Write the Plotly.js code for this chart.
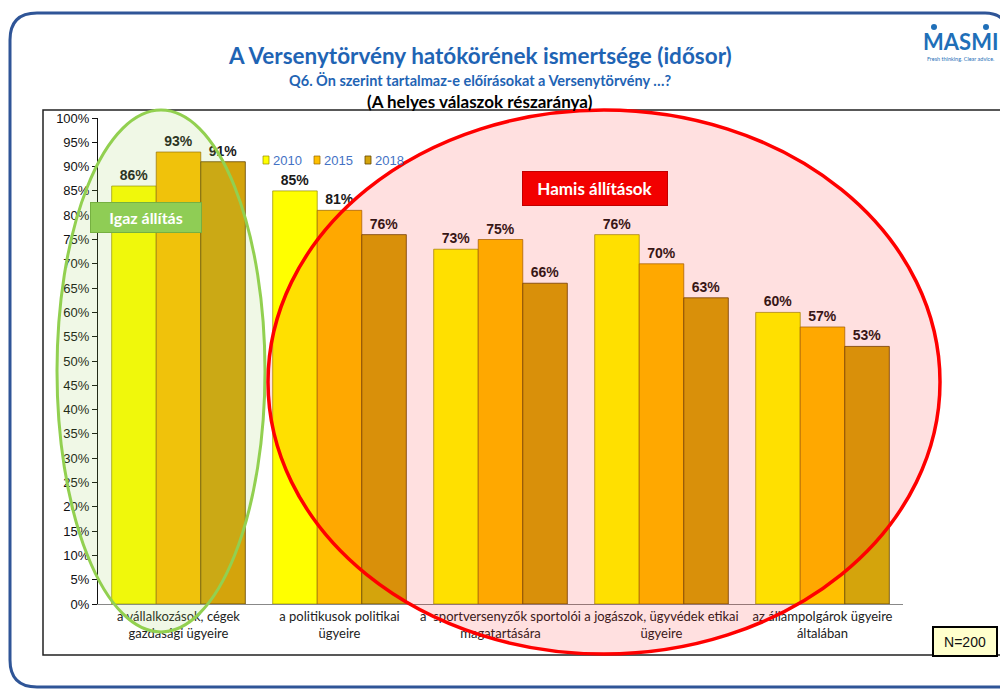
<!DOCTYPE html>
<html>
<head>
<meta charset="utf-8">
<script src="https://cdn.plot.ly/plotly-3.0.1.min.js"></script>
<style>html,body{margin:0;padding:0;background:#fff;}#chart{width:1000px;height:690px;}</style>
</head>
<body>
<div id="chart"></div>
<script>
// ---- data ----
const categories = [
  "a vállalkozások, cégek<br>gazdasági ügyeire",
  "a politikusok politikai<br>ügyeire",
  "a  sportversenyzők sportolói<br>magatartására",
  "a jogászok, ügyvédek etikai<br>ügyeire",
  "az állampolgárok ügyeire<br>általában"
];
const years = ["2010", "2015", "2018"];
const values2010 = [0.86, 0.85, 0.73, 0.76, 0.60];
const values2015 = [0.93, 0.81, 0.75, 0.70, 0.57];
const values2018 = [0.91, 0.76, 0.66, 0.63, 0.53];
const seriesValues = [values2010, values2015, values2018];

const titleText = "A Versenytörvény hatókörének ismertsége (idősor)";
const subtitleText = "Q6. Ön szerint tartalmaz-e előírásokat a Versenytörvény …?";
const subtitle2Text = "(A helyes válaszok részaránya)";
const trueLabel = "Igaz állítás";
const falseLabel = "Hamis állítások";
const nLabel = "N=200";

// ---- styles ----
const colors = ["#ffff00", "#ffc000", "#d4a40c"];
const lineColors = ["rgba(150,140,0,0.7)", "rgba(150,100,0,0.7)", "rgba(100,70,0,0.8)"];
const W = 1000, H = 690;
const PL = 98, PR = 903, PT = 118, PB = 604;
const fx = p => (p - PL) / (PR - PL);
const fy = p => (PB - p) / (PB - PT);

const traces = years.map((yr, i) => ({
  type: "bar",
  name: yr,
  x: categories,
  y: seriesValues[i],
  marker: { color: colors[i], line: { color: lineColors[i], width: 1 } },
  text: seriesValues[i].map(v => Math.round(v * 100) + "%"),
  textposition: "outside",
  cliponaxis: false,
  textfont: { family: "Liberation Sans, Arial", size: 14, color: "#1a1a1a", weight: "bold" },
  hoverinfo: "skip"
}));

const shapes = [];
const annotations = [];

// slide frame
shapes.push({
  type: "path", xref: "paper", yref: "paper", layer: "below",
  path: `M ${fx(10)},${fy(40)} Q ${fx(10)},${fy(13)} ${fx(37)},${fy(13)} L ${fx(985)},${fy(13)} Q ${fx(1006)},${fy(13)} ${fx(1010)},${fy(35)} ` +
        `M ${fx(10)},${fy(40)} L ${fx(10)},${fy(660)} Q ${fx(10)},${fy(687)} ${fx(37)},${fy(687)} L ${fx(1010)},${fy(687)}`,
  line: { color: "#2f5597", width: 3 }
});
// chart box
shapes.push({
  type: "rect", xref: "paper", yref: "paper", layer: "below",
  x0: fx(43), x1: fx(1003), y0: fy(655), y1: fy(110),
  line: { color: "#222", width: 1.5 }, fillcolor: "rgba(0,0,0,0)"
});
// green ellipse
shapes.push({
  type: "circle", xref: "paper", yref: "paper",
  x0: fx(57), x1: fx(265), y0: fy(632), y1: fy(110),
  line: { color: "#92d050", width: 3 }, fillcolor: "rgba(146,208,80,0.14)"
});
// red ellipse
shapes.push({
  type: "circle", xref: "paper", yref: "paper",
  x0: fx(268), x1: fx(940), y0: fy(654), y1: fy(110),
  line: { color: "#ff0000", width: 3.5 }, fillcolor: "rgba(255,0,0,0.12)"
});

// custom legend
years.forEach((yr, i) => {
  const mx = 263 + i * 51;
  shapes.push({
    type: "rect", xref: "paper", yref: "paper",
    x0: fx(mx), x1: fx(mx + 6), y0: fy(164), y1: fy(156),
    fillcolor: colors[i], line: { color: lineColors[i], width: 1 }
  });
  annotations.push({
    xref: "paper", yref: "paper", x: fx(mx + 8), y: fy(160), xanchor: "left", yanchor: "middle",
    text: yr, showarrow: false,
    font: { family: "Liberation Sans, Arial", size: 13, color: "#4472c4" }
  });
});

// titles
annotations.push({
  xref: "paper", yref: "paper", x: fx(480), y: fy(55), xanchor: "center", yanchor: "middle",
  text: titleText, showarrow: false,
  font: { family: "Lato", size: 22.5, color: "#1f64b4", weight: "bold" }
});
annotations.push({
  xref: "paper", yref: "paper", x: fx(480), y: fy(80), xanchor: "center", yanchor: "middle",
  text: subtitleText, showarrow: false,
  font: { family: "Lato", size: 14.5, color: "#1f64b4", weight: "bold" }
});
annotations.push({
  xref: "paper", yref: "paper", x: fx(480), y: fy(102), xanchor: "center", yanchor: "middle",
  text: subtitle2Text, showarrow: false,
  font: { family: "Lato", size: 17, color: "#000", weight: "bold" }
});

// logo
annotations.push({
  xref: "paper", yref: "paper", x: fx(960), y: fy(41), xanchor: "center", yanchor: "middle",
  text: "MASMI", showarrow: false,
  font: { family: "Lato", size: 22, color: "#1f6fb8", weight: "bold" }
});
annotations.push({
  xref: "paper", yref: "paper", x: fx(960), y: fy(59), xanchor: "center", yanchor: "middle",
  text: "Fresh thinking. Clear advice.", showarrow: false,
  font: { family: "Lato", size: 5.5, color: "#1f6fb8" }
});
[[934, 27], [986, 27]].forEach(([cx, cy]) => shapes.push({
  type: "circle", xref: "paper", yref: "paper",
  x0: fx(cx - 3), x1: fx(cx + 3), y0: fy(cy + 3), y1: fy(cy - 3),
  fillcolor: "#1f6fb8", line: { width: 0 }
}));

// labels for ellipses
annotations.push({
  xref: "paper", yref: "paper", x: fx(146), y: fy(217), xanchor: "center", yanchor: "middle",
  text: trueLabel, showarrow: false,
  font: { family: "Lato", size: 16, color: "#ffffff", weight: "bold" },
  bgcolor: "#8fcd55", bordercolor: "#76b041", borderwidth: 1,
  width: 108, height: 27
});
annotations.push({
  xref: "paper", yref: "paper", x: fx(595), y: fy(188), xanchor: "center", yanchor: "middle",
  text: falseLabel, showarrow: false,
  font: { family: "Lato", size: 17, color: "#ffffff", weight: "bold" },
  bgcolor: "#f20000", bordercolor: "#c00000", borderwidth: 1,
  width: 142, height: 31
});
// N box
annotations.push({
  xref: "paper", yref: "paper", x: fx(965), y: fy(641), xanchor: "center", yanchor: "middle",
  text: nLabel, showarrow: false,
  font: { family: "Liberation Sans, Arial", size: 14, color: "#111" },
  bgcolor: "#ffffcc", bordercolor: "#000", borderwidth: 2,
  width: 60, height: 25
});

const layout = {
  width: W, height: H,
  margin: { l: PL, r: W - PR, t: PT, b: H - PB, pad: 0 },
  paper_bgcolor: "#ffffff",
  plot_bgcolor: "rgba(0,0,0,0)",
  showlegend: false,
  barmode: "group",
  bargap: 0.17,
  bargroupgap: 0,
  font: { family: "Liberation Sans, Arial", size: 12, color: "#111" },
  xaxis: {
    showline: true, linecolor: "#888", linewidth: 1,
    ticks: "", showgrid: false,
    tickfont: { family: "Lato", size: 13, color: "#222" },
    automargin: false
  },
  yaxis: {
    range: [0, 1], dtick: 0.05, tickformat: ".0%",
    showline: true, linecolor: "#111", linewidth: 1,
    ticks: "outside", ticklen: 5, tickcolor: "#111",
    showgrid: false, zeroline: false,
    tickfont: { family: "Liberation Sans, Arial", size: 13, color: "#111" },
    automargin: false
  },
  shapes: shapes,
  annotations: annotations
};

Plotly.newPlot("chart", traces, layout, { displayModeBar: false, staticPlot: true });
</script>
</body>
</html>
